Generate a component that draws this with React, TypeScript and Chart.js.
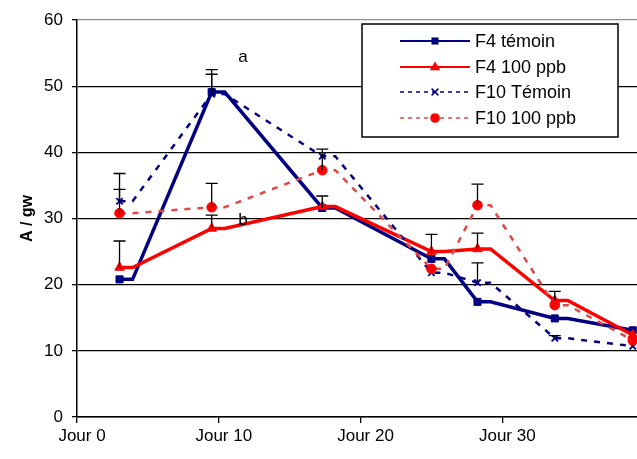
import React, { useEffect, useRef } from 'react';
import { Chart, registerables } from 'chart.js';

Chart.register(...registerables);

// ---- data ----
const days = [3, 9.5, 17.3, 25, 28.25, 33.7, 39.2];
const seriesNames = ['F4 témoin', 'F4 100 ppb', 'F10 Témoin', 'F10 100 ppb'];
const f4Temoin = [20.8, 49.1, 31.6, 23.9, 17.4, 14.9, 13.1];
const f4Ppb = [22.6, 28.5, 31.8, 25.0, 25.4, 17.6, 12.4];
const f10Temoin = [32.6, 48.8, 39.4, 21.8, 20.3, 11.9, 10.7];
const f10Ppb = [30.8, 31.7, 37.3, 22.4, 32.0, 16.9, 11.6];
const f4TemoinErr = [0, 3.4, 1.8, 0, 0, 0, 0];
const f4PpbErr = [4.0, 2.0, 0, 2.6, 2.4, 1.4, 0];
const f10TemoinErr = [4.2, 3.0, 0, 0, 3.0, 0.4, 0];
const f10PpbErr = [3.6, 3.6, 3.2, 0, 3.2, 0, 0];
const xTickValues = [0, 10, 20, 30];
const xTickLabels = ['Jour 0', 'Jour 10', 'Jour 20', 'Jour 30'];
const yTickValues = [0, 10, 20, 30, 40, 50, 60];
const yTitle = 'A / gw';
const annotTexts = ['a', 'b'];
const annotX = [11.7, 11.7];
const annotY = [54.4, 29.8];

// ---- styles ----
const FONT = "'Liberation Sans', Arial, sans-serif";
const NAVY = '#000080';
const RED = '#ff0000';
const PINK = '#e04848';
const SHOULDER = 0.92; // Excel-like short horizontal run after each marker

const values = [f4Temoin, f4Ppb, f10Temoin, f10Ppb];
const errors = [f4TemoinErr, f4PpbErr, f10TemoinErr, f10PpbErr];
const lineColors = [NAVY, RED, NAVY, PINK];
const markerColors = [NAVY, RED, NAVY, RED];
const markerStyles = ['rect', 'triangle', 'crossRot', 'circle'];
const markerRadii = [5, 5.5, 4.5, 4.8];
const lineWidths = [3.5, 3.5, 2.5, 2.5];
const dashes: number[][] = [[], [], [6, 7], [6, 7]];

function buildPoints(vals: number[]) {
  const pts: { x: number; y: number }[] = [];
  days.forEach((d, i) => {
    pts.push({ x: d, y: vals[i] });
    if (i < days.length - 1) pts.push({ x: d + SHOULDER, y: vals[i] });
  });
  return pts;
}

function drawMarker(ctx: CanvasRenderingContext2D, style: string, x: number, y: number, r: number, color: string) {
  ctx.save();
  ctx.setLineDash([]);
  ctx.fillStyle = color;
  ctx.strokeStyle = color;
  ctx.lineWidth = 1.5;
  ctx.beginPath();
  if (style === 'rect') {
    const s = r * Math.SQRT1_2;
    ctx.rect(x - s, y - s, 2 * s, 2 * s);
    ctx.fill();
  } else if (style === 'triangle') {
    ctx.moveTo(x, y - r);
    ctx.lineTo(x + r * 0.95, y + r * 0.6);
    ctx.lineTo(x - r * 0.95, y + r * 0.6);
    ctx.closePath();
    ctx.fill();
  } else if (style === 'circle') {
    ctx.arc(x, y, r, 0, Math.PI * 2);
    ctx.fill();
  } else {
    const s = r * 0.75;
    ctx.moveTo(x - s, y - s);
    ctx.lineTo(x + s, y + s);
    ctx.moveTo(x + s, y - s);
    ctx.lineTo(x - s, y + s);
    ctx.stroke();
  }
  ctx.restore();
}

const errorBarPlugin = {
  id: 'errorBars',
  afterDatasetsDraw(chart: any) {
    const ctx = chart.ctx as CanvasRenderingContext2D;
    const ys = chart.scales.y;
    ctx.save();
    ctx.strokeStyle = '#000';
    ctx.lineWidth = 1.3;
    ctx.setLineDash([]);
    errors.forEach((errs, di) => {
      const meta = chart.getDatasetMeta(di);
      errs.forEach((e, i) => {
        if (!e) return;
        const pt = meta.data[i * 2];
        if (!pt) return;
        const x = pt.x;
        const y0 = pt.y;
        const y1 = ys.getPixelForValue(values[di][i] + e);
        ctx.beginPath();
        ctx.moveTo(x, y0);
        ctx.lineTo(x, y1);
        ctx.moveTo(x - 6, y1);
        ctx.lineTo(x + 6, y1);
        ctx.stroke();
      });
    });
    ctx.restore();
  },
};

const overlayPlugin = {
  id: 'overlay',
  afterDraw(chart: any) {
    const ctx = chart.ctx as CanvasRenderingContext2D;
    const xs = chart.scales.x;
    const ys = chart.scales.y;
    // annotations
    ctx.save();
    ctx.fillStyle = '#000';
    ctx.font = `17px ${FONT}`;
    ctx.textAlign = 'center';
    ctx.textBaseline = 'middle';
    annotTexts.forEach((t, i) => {
      ctx.fillText(t, xs.getPixelForValue(annotX[i]), ys.getPixelForValue(annotY[i]));
    });
    ctx.restore();

    // legend box
    const left = 362, top = 24, right = 618, bottom = 137;
    ctx.save();
    ctx.fillStyle = '#fff';
    ctx.fillRect(left, top, right - left, bottom - top);
    ctx.strokeStyle = '#000';
    ctx.lineWidth = 1.5;
    ctx.strokeRect(left, top, right - left, bottom - top);
    const rowY = [41, 67, 92, 118];
    seriesNames.forEach((name, i) => {
      const y = rowY[i];
      ctx.save();
      ctx.strokeStyle = lineColors[i];
      ctx.lineWidth = i < 2 ? 2 : 1.5;
      ctx.setLineDash(i < 2 ? [] : [4, 4]);
      ctx.beginPath();
      ctx.moveTo(400, y);
      ctx.lineTo(470, y);
      ctx.stroke();
      ctx.restore();
      drawMarker(ctx, markerStyles[i], 435, y, markerRadii[i], markerColors[i]);
      ctx.fillStyle = '#000';
      ctx.font = `18px ${FONT}`;
      ctx.textAlign = 'left';
      ctx.textBaseline = 'middle';
      ctx.fillText(name, 475, y + 1);
    });
    ctx.restore();
  },
};

export default function App() {
  const ref = useRef<HTMLCanvasElement>(null);

  useEffect(() => {
    const datasets = values.map((vals, i) => ({
      label: seriesNames[i],
      data: buildPoints(vals),
      borderColor: lineColors[i],
      backgroundColor: markerColors[i],
      borderWidth: lineWidths[i],
      borderDash: dashes[i],
      pointStyle: markerStyles[i] as any,
      pointRadius: (c: any) => (c.dataIndex % 2 === 0 ? markerRadii[i] : 0),
      pointBorderColor: markerColors[i],
      pointBackgroundColor: markerColors[i],
      pointBorderWidth: i === 2 ? 1.8 : 1,
      tension: 0,
      clip: false as any,
      order: 3 - i,
    }));

    const chart = new Chart(ref.current!, {
      type: 'line',
      data: { datasets },
      plugins: [errorBarPlugin, overlayPlugin],
      options: {
        responsive: true,
        maintainAspectRatio: false,
        animation: false,
        layout: { autoPadding: false, padding: { top: 20, right: 0, bottom: 0, left: 0 } },
        plugins: { legend: { display: false }, tooltip: { enabled: false } },
        scales: {
          x: {
            type: 'linear',
            min: 0,
            max: 39.5,
            afterBuildTicks: (s: any) => {
              s.ticks = xTickValues.map((v) => ({ value: v }));
            },
            afterFit: (s: any) => {
              s.height = 42;
              s.paddingLeft = 0;
              s.paddingRight = 0;
            },
            grid: { drawOnChartArea: false, drawTicks: true, tickLength: 6, color: '#000', tickColor: '#000', lineWidth: 1.3 },
            border: { color: '#000', width: 1.5 },
            ticks: {
              autoSkip: false,
              maxRotation: 0,
              padding: 3,
              labelOffset: 5,
              color: '#000',
              font: { family: FONT, size: 17 },
              callback: (v: any) => xTickLabels[xTickValues.indexOf(Number(v))] ?? '',
            },
          },
          y: {
            min: 0,
            max: 60,
            afterBuildTicks: (s: any) => {
              s.ticks = yTickValues.map((v) => ({ value: v }));
            },
            afterFit: (s: any) => {
              s.width = 77;
            },
            grid: {
              color: (c: any) => (c.tick && c.tick.value === 60 ? '#8c8c8c' : '#000'),
              tickColor: '#000',
              tickLength: 5,
              lineWidth: 1.3,
            },
            border: { color: '#000', width: 1.5 },
            ticks: {
              padding: 9,
              color: '#000',
              font: { family: FONT, size: 17 },
            },
            title: {
              display: true,
              text: yTitle,
              color: '#000',
              font: { family: FONT, size: 16, weight: 'bold' },
              padding: { top: 18, bottom: 0 },
            },
          },
        },
      },
    });
    return () => chart.destroy();
  }, []);

  return (
    <div style={{ position: 'fixed', left: 0, top: 0, width: 637, height: 459, background: '#fff' }}>
      <canvas ref={ref} />
    </div>
  );
}
